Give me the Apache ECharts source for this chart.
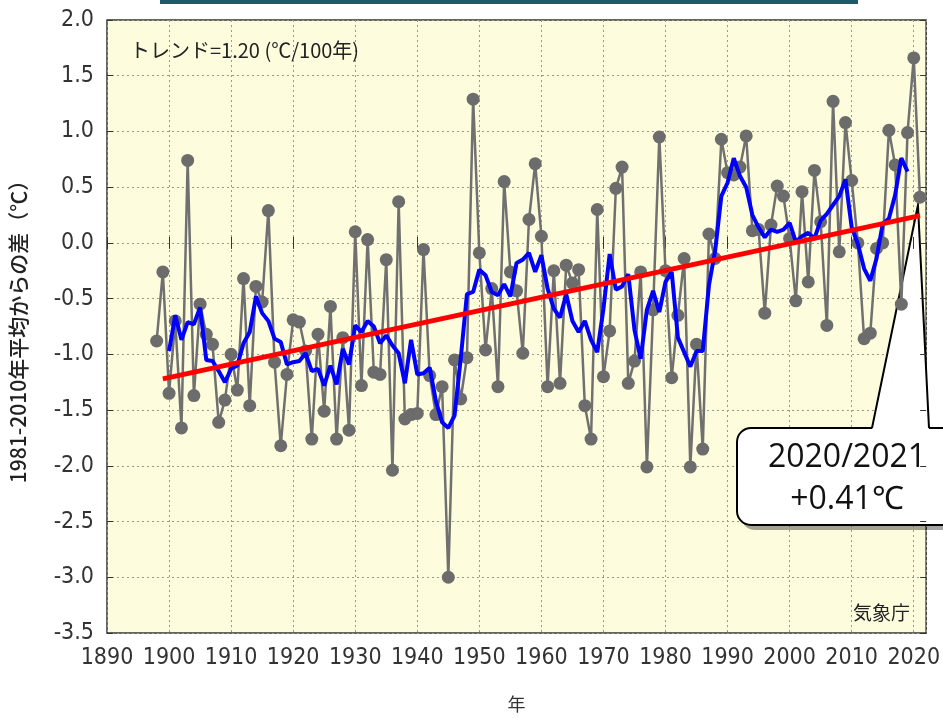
<!DOCTYPE html>
<html>
<head>
<meta charset="utf-8">
<script src="https://cdn.jsdelivr.net/npm/echarts@6/dist/echarts.min.js"></script>
<style>
  html, body { margin: 0; padding: 0; background: #fff; }
  #chart { width: 943px; height: 718px; }
</style>
</head>
<body>
<div id="chart"></div>
<script>
// winter mean temperature anomaly, 1898 - 2021 (vs 1981-2010 mean)
var firstYear = 1898;
var anomaly = [
  -0.88, -0.26, -1.35, -0.70, -1.66, 0.74, -1.37, -0.55, -0.82, -0.91,
  -1.61, -1.41, -1.00, -1.32, -0.32, -1.46, -0.39, -0.53, 0.29, -1.07,
  -1.82, -1.18, -0.69, -0.71, -0.97, -1.76, -0.82, -1.51, -0.57, -1.76,
  -0.85, -1.68, 0.10, -1.28, 0.03, -1.16, -1.18, -0.15, -2.04, 0.37,
  -1.58, -1.54, -1.53, -0.06, -1.19, -1.54, -1.29, -3.00, -1.05, -1.40,
  -1.03, 1.29, -0.09, -0.96, -0.41, -1.29, 0.55, -0.26, -0.43, -0.99,
  0.21, 0.71, 0.06, -1.29, -0.25, -1.26, -0.20, -0.36, -0.24, -1.46,
  -1.76, 0.30, -1.20, -0.79, 0.49, 0.68, -1.26, -1.06, -0.26, -2.01,
  -0.60, 0.95, -0.25, -1.21, -0.65, -0.14, -2.01, -0.91, -1.85, 0.08,
  -0.14, 0.93, 0.63, 0.61, 0.68, 0.96, 0.11, 0.12, -0.63, 0.16,
  0.51, 0.42, 0.04, -0.52, 0.46, -0.35, 0.65, 0.19, -0.74, 1.27,
  -0.08, 1.08, 0.56, 0.00, -0.86, -0.81, -0.05, 0.00, 1.01, 0.70,
  -0.55, 0.99, 1.66, 0.41
];

// 5-year running mean (blue), 1900 - 2019
var smoothFirstYear = 1900;
var smooth = [
  -0.97, -0.65, -0.87, -0.71, -0.73, -0.58, -1.05, -1.06, -1.15, -1.25,
  -1.13, -1.10, -0.90, -0.80, -0.48, -0.63, -0.70, -0.86, -0.89, -1.09,
  -1.07, -1.06, -0.99, -1.15, -1.13, -1.28, -1.10, -1.27, -0.95, -1.09,
  -0.74, -0.80, -0.70, -0.75, -0.90, -0.83, -0.92, -0.99, -1.26, -0.87,
  -1.18, -1.17, -1.12, -1.42, -1.61, -1.66, -1.55, -1.04, -0.46, -0.44,
  -0.24, -0.29, -0.44, -0.47, -0.37, -0.48, -0.18, -0.15, -0.09, -0.26,
  -0.11, -0.41, -0.59, -0.67, -0.46, -0.70, -0.80, -0.70, -0.87, -0.98,
  -0.59, -0.10, -0.42, -0.39, -0.28, -0.78, -1.04, -0.60, -0.43, -0.62,
  -0.35, -0.26, -0.85, -0.98, -1.11, -0.97, -0.97, -0.38, -0.07, 0.42,
  0.54, 0.76, 0.60, 0.50, 0.25, 0.14, 0.05, 0.12, 0.10, 0.12,
  0.18, 0.01, 0.06, 0.09, 0.04, 0.20, 0.26, 0.34, 0.42, 0.57,
  0.14, -0.01, -0.23, -0.34, -0.14, 0.17, 0.22, 0.43, 0.76, 0.64
];

// trend line (red), 1.20 ℃/100 years
var trendYears = [1899, 2021];
var trendValues = [-1.22, 0.245];

var rawData = anomaly.map(function (v, i) { return [firstYear + i, v]; });
var smoothData = smooth.map(function (v, i) { return [smoothFirstYear + i, v]; });
var trendData = trendYears.map(function (y, i) { return [y, trendValues[i]]; });

var narrow = "'Liberation Sans Narrow', 'DejaVu Sans Condensed', 'Liberation Sans', sans-serif";
var jp = "'Noto Sans CJK JP', 'Noto Sans', sans-serif";

var myChart = echarts.init(document.getElementById('chart'));

var option = {
    backgroundColor: '#ffffff',
    animation: false,
    grid: {
        left: 103,
        right: 14,
        top: 20,
        bottom: 75,
        show: true,
        backgroundColor: '#FDFCDC',
        borderColor: '#333',
        borderWidth: 1.5
    },
    xAxis: [{
        type: 'value',
        min: 1890,
        max: 2022,
        interval: 10,
        name: '年',
        nameLocation: 'middle',
        nameGap: 62,
        nameTextStyle: { color: '#333', fontSize: 18, fontFamily: jp },
        axisLine: { show: false },
        axisTick: { inside: true, length: 6, lineStyle: { color: '#333' } },
        axisLabel: {
            color: '#333', fontSize: 23, fontFamily: narrow, margin: 14,
            showMaxLabel: false,
            formatter: function (v) { return v % 10 === 0 ? String(v) : ''; }
        },
        splitLine: { show: true, lineStyle: { color: '#9a9a8a', type: [2, 3], width: 1 } }
    }, {
        type: 'value',
        position: 'top',
        min: 1890,
        max: 2022,
        interval: 10,
        axisLine: { show: false },
        axisTick: { inside: true, length: 6, lineStyle: { color: '#333' } },
        axisLabel: { show: false },
        splitLine: { show: false }
    }],
    yAxis: [{
        type: 'value',
        min: -3.5,
        max: 2.0,
        interval: 0.5,
        name: '1981-2010年平均からの差（℃）',
        nameLocation: 'middle',
        nameGap: 78,
        nameTextStyle: { color: '#222', fontSize: 21, fontFamily: jp, fontWeight: 500 },
        axisLine: { show: false },
        axisTick: { inside: true, length: 6, lineStyle: { color: '#333' } },
        axisLabel: {
            color: '#333', fontSize: 23, fontFamily: narrow, margin: 13,
            formatter: function (v) { return v.toFixed(1); }
        },
        splitLine: { show: true, lineStyle: { color: '#9a9a8a', type: [2, 3], width: 1 } }
    }, {
        type: 'value',
        position: 'right',
        min: -3.5,
        max: 2.0,
        interval: 0.5,
        axisLine: { show: false },
        axisTick: { inside: true, length: 6, lineStyle: { color: '#333' } },
        axisLabel: { show: false },
        splitLine: { show: false }
    }],
    series: [{
        name: 'anomaly',
        type: 'line',
        data: rawData,
        symbol: 'circle',
        symbolSize: 13,
        lineStyle: { color: '#707070', width: 2.5 },
        itemStyle: { color: '#6c6c6c' },
        z: 2
    }, {
        name: 'running mean',
        type: 'line',
        data: smoothData,
        symbol: 'none',
        lineStyle: { color: '#0000ff', width: 4 },
        z: 3
    }, {
        name: 'trend',
        type: 'line',
        data: trendData,
        symbol: 'none',
        lineStyle: { color: '#ff0000', width: 5 },
        z: 4
    }]
};
myChart.setOption(option);

// annotations
var tip = myChart.convertToPixel({ xAxisIndex: 0, yAxisIndex: 0 }, [firstYear + anomaly.length - 1, anomaly[anomaly.length - 1]]);
var boxL = 737, boxT = 428, boxB = 525;
myChart.setOption({
    graphic: [
        { type: 'rect', left: 160, top: 0, shape: { width: 698, height: 4 }, style: { fill: '#1d5968' } },
        { type: 'text', left: 130, top: 40, style: { text: 'トレンド=1.20 (℃/100年)', fill: '#222', font: '20px ' + jp } },
        { type: 'text', right: 33, top: 603, style: { text: '気象庁', fill: '#222', font: '19px ' + jp } },
        {
            type: 'group', z: 100,
            children: [
                { type: 'rect', shape: { x: boxL + 4, y: boxT + 5, width: 240, height: boxB - boxT, r: 14 }, style: { fill: 'rgba(0,0,0,0.35)' } },
                { type: 'rect', shape: { x: boxL, y: boxT, width: 240, height: boxB - boxT, r: 14 }, style: { fill: '#fff', stroke: '#000', lineWidth: 2 } },
                { type: 'polygon', shape: { points: [[872, boxT + 1.5], [tip[0] - 2, tip[1] + 8], [929, boxT + 1.5]] }, style: { fill: '#fff' } },
                { type: 'polyline', shape: { points: [[872, boxT], [tip[0] - 2, tip[1] + 8], [929, boxT]] }, style: { stroke: '#000', lineWidth: 2, fill: null } },
                { type: 'text', style: { x: 847, y: 458, text: '2020/2021', align: 'center', verticalAlign: 'middle', fill: '#111', font: '32px "Open Sans", sans-serif' } },
                { type: 'text', style: { x: 847, y: 500, text: '+0.41℃', align: 'center', verticalAlign: 'middle', fill: '#111', font: '32px "Open Sans", sans-serif' } }
            ]
        }
    ]
});
</script>
</body>
</html>
